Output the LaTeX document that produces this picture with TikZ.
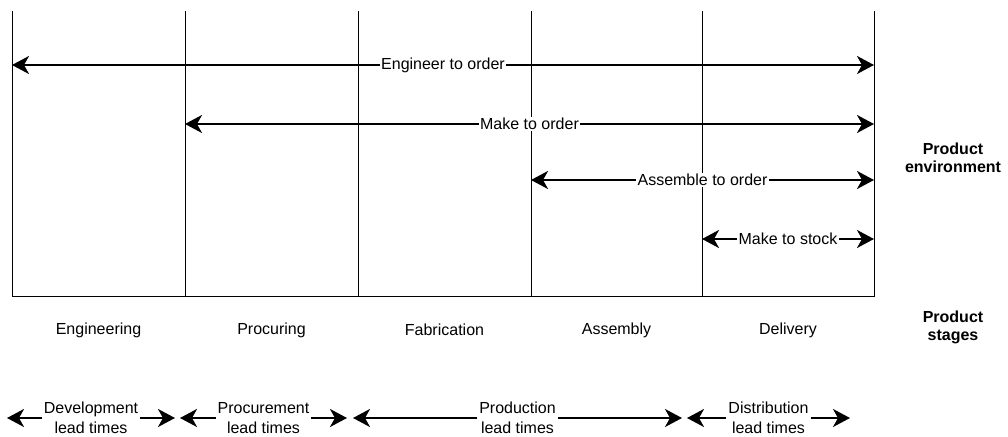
\documentclass[tikz,border=0pt]{standalone}
\usepackage{fontspec}
\setmainfont{Liberation Sans}
\usetikzlibrary{arrows.meta}
\begin{document}
\begin{tikzpicture}[x=1bp,y=-1bp,
  font=\fontsize{16bp}{20bp}\selectfont,
  grid/.style={line width=1bp, black},
  arr/.style={line width=2bp, {Stealth[length=17bp,width=18bp,inset=5bp]}-{Stealth[length=17bp,width=18bp,inset=5bp]}},
  lbl/.style={fill=white, inner sep=1.5bp},
  lead/.style={fill=white, inner sep=2bp, align=center, font=\fontsize{16bp}{20bp}\selectfont},
  side/.style={align=center, font=\fontsize{16bp}{18bp}\selectfont\bfseries},
  stage/.style={}]
\useasboundingbox (0,0) rectangle (1008,437);
% column lines
\foreach \i/\x in {0/12,1/185,2/358,3/531,4/702,5/874}{
  \coordinate (t\i) at (\x,11);
  \coordinate (b\i) at (\x,297);
  \draw[grid] (t\i) -- (b\i);
}
\draw[grid] (b0) -- (b5);
% environment arrows
\coordinate (etoL) at (12,65);   \coordinate (etoR) at (874,65);
\coordinate (mtoL) at (185,124); \coordinate (mtoR) at (874,124);
\coordinate (atoL) at (531,180); \coordinate (atoR) at (874,180);
\coordinate (mtsL) at (702,239); \coordinate (mtsR) at (874,239);
\draw[arr] (etoL) -- node[lbl] (eto) {Engineer to order} (etoR);
\draw[arr] (mtoL) -- node[lbl] (mto) {Make to order} (mtoR);
\draw[arr] (atoL) -- node[lbl] (ato) {Assemble to order} (atoR);
\draw[arr] (mtsL) -- node[lbl] (mts) {Make to stock} (mtsR);
% right labels
\node[side] (env) at (953,158) {Product\\environment};
\node[side] (stg) at (953,327) {Product\\stages};
% stage labels
\node[stage] (s1) at (98.5,330) {Engineering};
\node[stage] (s2) at (271.5,330) {Procuring};
\node[stage] (s3) at (444.5,330) {Fabrication};
\node[stage] (s4) at (616.5,330) {Assembly};
\node[stage] (s5) at (788,330) {Delivery};
% lead time arrows
\coordinate (dL) at (7,418);   \coordinate (dR) at (175,418);
\coordinate (pL) at (180,418); \coordinate (pR) at (347,418);
\coordinate (oL) at (353,418); \coordinate (oR) at (682,418);
\coordinate (iL) at (687,418); \coordinate (iR) at (850,418);
\draw[arr] (dL) -- node[lead] (dev) {Development\\lead times} (dR);
\draw[arr] (pL) -- node[lead] (pro) {Procurement\\lead times} (pR);
\draw[arr] (oL) -- node[lead, pos=0.5] (prd) {Production\\lead times} (oR);
\draw[arr] (iL) -- node[lead] (dis) {Distribution\\lead times} (iR);
\end{tikzpicture}
\end{document}
